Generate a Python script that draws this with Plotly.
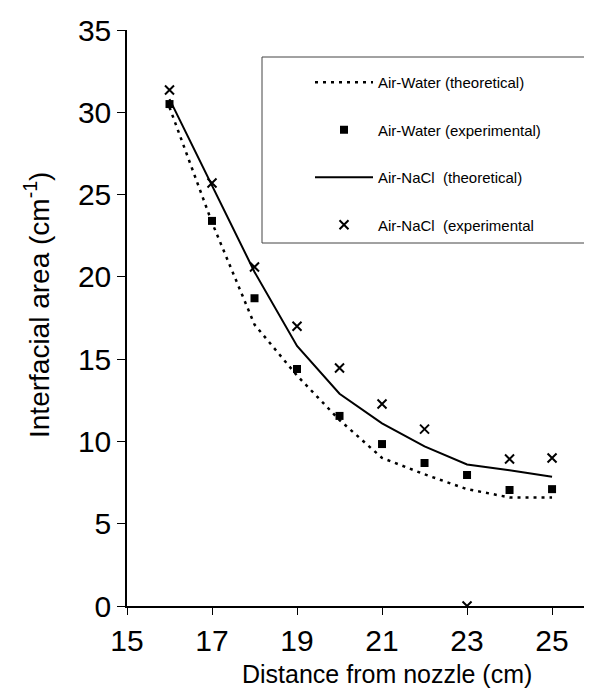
import plotly.graph_objects as go

distance = [16, 17, 18, 19, 20, 21, 22, 23, 24, 25]
water_theory = [30.3, 23.3, 17.1, 14.0, 11.3, 9.0, 8.0, 7.1, 6.6, 6.6]
water_exp = [30.5, 23.4, 18.7, 14.4, 11.55, 9.84, 8.69, 7.96, 7.05, 7.1]
nacl_theory = [30.8, 25.5, 20.3, 15.8, 12.9, 11.1, 9.7, 8.6, 8.25, 7.85]
nacl_exp = [31.35, 25.7, 20.6, 17.0, 14.46, 12.27, 10.75, 0.0, 8.93, 8.99]

x_ticks = [15, 17, 19, 21, 23, 25]
y_ticks = [0, 5, 10, 15, 20, 25, 30, 35]

# page body has an 8px margin; work in reference-picture pixels and shift
OFF = 8
W, H = 592 - OFF, 695 - OFF
L, T = 127 - OFF, 30 - OFF
R = 0
B = H - (606 - OFF)
pw, ph = W - L - R, H - T - B

def px_x(p):
    return (p - OFF - L) / pw

def px_y(p):
    return (H - B - (p - OFF)) / ph

fig = go.Figure()
fig.add_trace(go.Scatter(x=distance, y=water_theory, mode="lines",
                         name="Air-Water (theoretical)", legendgroup="a",
                         line=dict(color="black", width=2.5, dash="3px,5px")))
fig.add_trace(go.Scatter(x=distance, y=water_exp, mode="markers",
                         name="Air-Water (experimental)", legendgroup="b",
                         marker=dict(symbol="square", size=8, color="black")))
fig.add_trace(go.Scatter(x=distance, y=nacl_theory, mode="lines",
                         name="Air-NaCl  (theoretical)", legendgroup="c",
                         line=dict(color="black", width=2)))
fig.add_trace(go.Scatter(x=distance, y=nacl_exp, mode="markers",
                         name="Air-NaCl  (experimental", legendgroup="d",
                         marker=dict(symbol="x-thin", size=9, color="black",
                                     line=dict(color="black", width=2))))

fig.add_shape(type="rect", xref="paper", yref="paper",
              x0=px_x(262), x1=px_x(587), y0=px_y(243), y1=px_y(57),
              line=dict(color="#444", width=1), fillcolor="rgba(0,0,0,0)")

fig.add_annotation(text="Distance from nozzle (cm)", xref="paper", yref="paper",
                   x=px_x(387), y=px_y(674), showarrow=False,
                   font=dict(size=25, color="black"), xanchor="center", yanchor="middle")
fig.add_annotation(text="Interfacial area (cm<sup>-1</sup>)", xref="paper", yref="paper",
                   x=px_x(37), y=px_y(305), showarrow=False, textangle=-90,
                   font=dict(size=28, color="black"), xanchor="center", yanchor="middle")

fig.update_layout(
    width=W, height=H,
    margin=dict(l=L, r=R, t=T, b=B),
    paper_bgcolor="white", plot_bgcolor="white",
    font=dict(family="Liberation Sans, Arial, sans-serif", color="black"),
    showlegend=True,
    legend=dict(x=px_x(310), y=px_y(66), xanchor="left", yanchor="top",
                bgcolor="rgba(0,0,0,0)", borderwidth=0,
                font=dict(size=15, color="black"),
                itemwidth=58, tracegroupgap=25),
    xaxis=dict(range=[15, 25.94], tickvals=x_ticks, ticktext=[str(v) for v in x_ticks],
               showgrid=False, zeroline=False, showline=True, linecolor="black",
               linewidth=1.5, ticks="outside", ticklen=7, tickcolor="black",
               automargin=False,
               tickfont=dict(size=30, color="black")),
    yaxis=dict(range=[0, 35], tickvals=y_ticks, ticktext=[str(v) for v in y_ticks],
               showgrid=False, zeroline=False, showline=True, linecolor="black",
               linewidth=1.5, ticks="outside", ticklen=8, tickcolor="black",
               automargin=False,
               tickfont=dict(size=30, color="black")),
)

fig.write_html("out.html")
